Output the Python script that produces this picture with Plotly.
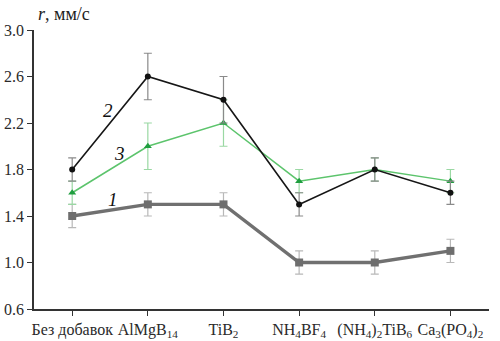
import plotly.graph_objects as go

categories = ["Без добавок", "AlMgB<sub>14</sub>", "TiB<sub>2</sub>",
              "NH<sub>4</sub>BF<sub>4</sub>", "(NH<sub>4</sub>)<sub>2</sub>TiB<sub>6</sub>",
              "Ca<sub>3</sub>(PO<sub>4</sub>)<sub>2</sub>"]
series1 = [1.4, 1.5, 1.5, 1.0, 1.0, 1.1]
err1 = [0.1, 0.1, 0.1, 0.1, 0.1, 0.1]
series2 = [1.8, 2.6, 2.4, 1.5, 1.8, 1.6]
err2 = [0.1, 0.2, 0.2, 0.1, 0.1, 0.1]
series3 = [1.6, 2.0, 2.2, 1.7, 1.8, 1.7]
err3 = [0.1, 0.2, 0.2, 0.1, 0.1, 0.1]
y_ticks = [0.6, 1.0, 1.4, 1.8, 2.2, 2.6, 3.0]

xs = list(range(len(categories)))
font_family = "Liberation Serif, Times New Roman, serif"

fig = go.Figure()
fig.add_trace(go.Scatter(
    x=xs, y=series1, mode="lines+markers",
    line=dict(color="#707070", width=3.4),
    marker=dict(symbol="square", size=8, color="#6e6e6e"),
    error_y=dict(type="data", array=err1, color="#b8b8b8", thickness=1.2, width=4),
))
fig.add_trace(go.Scatter(
    x=xs, y=series3, mode="lines+markers",
    line=dict(color="#5cc46c", width=1.5),
    marker=dict(symbol="triangle-up", size=7, color="#1f9e3f"),
    error_y=dict(type="data", array=err3, color="#9ad8a3", thickness=1.2, width=4),
))
fig.add_trace(go.Scatter(
    x=xs, y=series2, mode="lines+markers",
    line=dict(color="#161616", width=1.6),
    marker=dict(symbol="circle", size=6, color="#111111"),
    error_y=dict(type="data", array=err2, color="#8a8a8a", thickness=1.2, width=4),
))

for txt, xv, yv in [("2", 0.47, 2.31), ("3", 0.62, 1.94), ("1", 0.54, 1.54)]:
    fig.add_annotation(x=xv, y=yv, text="<i>" + txt + "</i>", showarrow=False,
                       font=dict(family=font_family, size=19, color="#111"))

fig.add_annotation(xref="paper", yref="paper", x=0.0, y=1.0, yshift=4, xshift=2,
                   xanchor="left", yanchor="bottom", showarrow=False,
                   text="<i>r</i>, мм/с",
                   font=dict(family=font_family, size=18, color="#222"))

fig.update_layout(
    width=500, height=341,
    margin=dict(l=34, r=11, t=30, b=32),
    paper_bgcolor="white", plot_bgcolor="white",
    showlegend=False,
    font=dict(family=font_family, size=16, color="#2a2a2a"),
    xaxis=dict(range=[-0.505, 5.51], tickmode="array", tickvals=xs, ticktext=categories,
               automargin=False,
               showgrid=False, zeroline=False, showline=True, linecolor="#333", linewidth=1.5,
               ticks="outside", ticklen=5, tickcolor="#333", tickwidth=1.2),
    yaxis=dict(range=[0.6, 3.0], tickmode="array", tickvals=y_ticks,
               ticktext=[f"{v:.1f}" for v in y_ticks], automargin=False,
               showgrid=False, zeroline=False, showline=True, linecolor="#333", linewidth=1.5,
               ticks="outside", ticklen=5, tickcolor="#333", tickwidth=1.2),
)

fig.write_html("out.html")
